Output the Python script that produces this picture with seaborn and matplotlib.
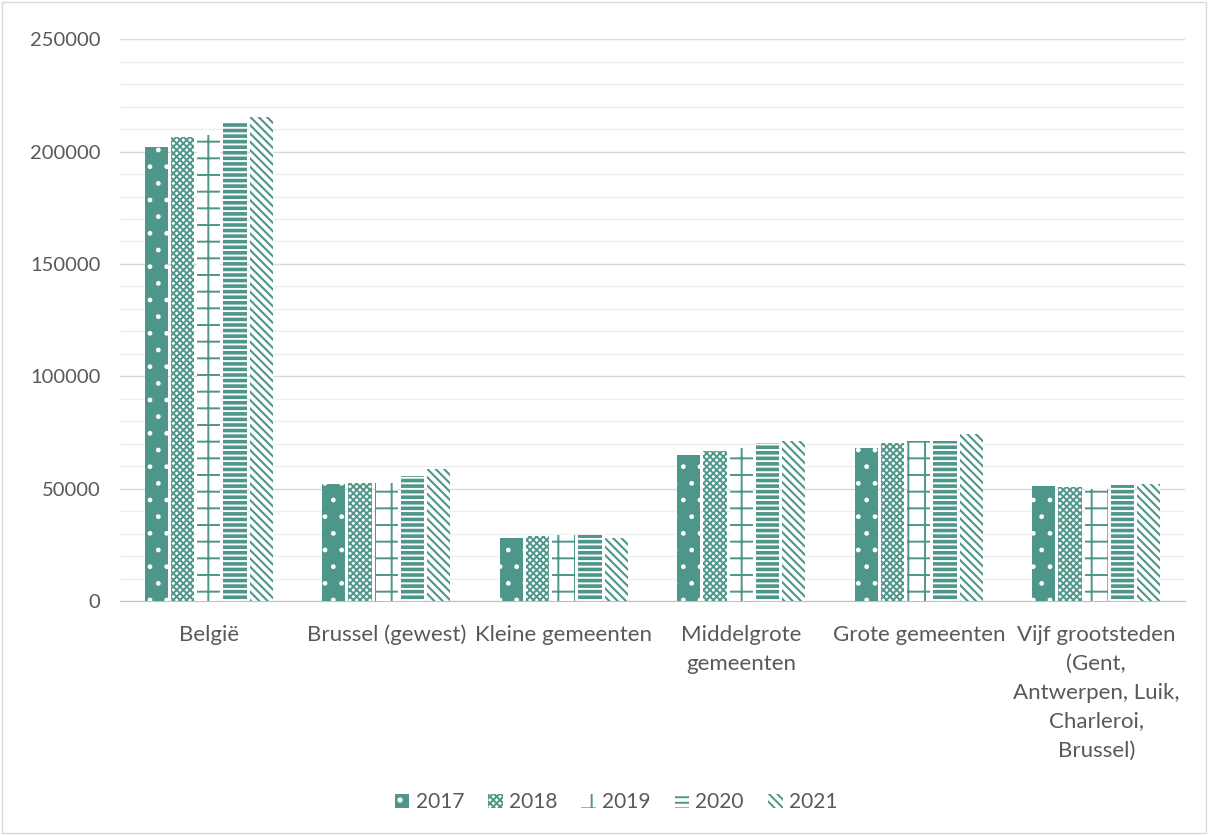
import pandas as pd
import seaborn as sns
import matplotlib.pyplot as plt
from matplotlib.ticker import MultipleLocator
from matplotlib.patches import Patch, Rectangle

# data
categories = ["België", "Brussel (gewest)", "Kleine gemeenten", "Middelgrote\ngemeenten",
              "Grote gemeenten", "Vijf grootsteden\n(Gent,\nAntwerpen, Luik,\nCharleroi,\nBrussel)"]
years = ["2017", "2018", "2019", "2020", "2021"]
v2017 = [202000, 52000, 28000, 65000, 68000, 51000]
v2018 = [206500, 52500, 29000, 66700, 70300, 50700]
v2019 = [207500, 52500, 29300, 68000, 71200, 49800]
v2020 = [213000, 55600, 29300, 70300, 71200, 51600]
v2021 = [215300, 58700, 28000, 71200, 74300, 52000]

teal = "#4E9689"
grey_txt = "#595959"

rows = []
for y, vals in zip(years, [v2017, v2018, v2019, v2020, v2021]):
    for c, v in zip(categories, vals):
        rows.append({"cat": c, "year": y, "value": v})
df = pd.DataFrame(rows)

sns.set_style("white")
plt.rcParams["font.family"] = ["Lato", "DejaVu Sans"]
plt.rcParams["hatch.linewidth"] = 1.4

fig = plt.figure(figsize=(12.08, 8.35), dpi=100)
ax = fig.add_axes([0.0993, 0.2802, 0.8817, 0.6728])

sns.barplot(data=df, x="cat", y="value", hue="year", order=categories, hue_order=years,
            palette=["white"] * 5, width=0.74, gap=0.12, ax=ax, legend=False, zorder=3)

# patronen per jaar
styles = [
    dict(face=teal, edge="white", hatch=".", hlw=1.0),
    dict(face="white", edge=teal, hatch="xxxxx", hlw=1.4),
    dict(face="white", edge=teal, hatch="+", hlw=1.4),
    dict(face="white", edge=teal, hatch="---", hlw=2.6),
    dict(face="white", edge=teal, hatch="\\\\\\\\", hlw=1.5),
]
for cont, st in zip(ax.containers, styles):
    for bar in cont:
        bar.set_facecolor(st["face"])
        bar.set_edgecolor(st["edge"])
        bar.set_hatch(st["hatch"])
        bar.set_linewidth(0)
        if hasattr(bar, "set_hatch_linewidth"):
            bar.set_hatch_linewidth(st["hlw"])

ax.set_ylim(0, 250000)
ax.yaxis.set_major_locator(MultipleLocator(50000))
ax.yaxis.set_minor_locator(MultipleLocator(10000))
ax.grid(axis="y", which="major", color="#D9D9D9", lw=1, zorder=0)
ax.grid(axis="y", which="minor", color="#EFEFEF", lw=1, zorder=0)
ax.set_axisbelow(True)
for s in ["top", "right", "left"]:
    ax.spines[s].set_visible(False)
ax.spines["bottom"].set_color("#BFBFBF")
ax.set_xlabel("")
ax.set_ylabel("")
ax.tick_params(axis="both", which="both", length=0, colors=grey_txt)
ax.tick_params(axis="x", pad=17, labelsize=16)
ax.tick_params(axis="y", pad=14, labelsize=14.5)
ax.set_xticks(range(len(categories)))
ax.set_xticklabels(categories, va="top", ha="center", linespacing=1.56)

handles = []
for st in styles:
    h = Patch(facecolor=st["face"], edgecolor=st["edge"], hatch=st["hatch"], lw=0)
    handles.append(h)
fig.legend(handles, years, loc="center", bbox_to_anchor=(0.51, 0.039), ncol=5, frameon=False,
           fontsize=15, labelcolor=grey_txt, handlelength=0.7, handleheight=0.7,
           handletextpad=0.3, columnspacing=1.15)

fig.patches.append(Rectangle((0.002, 0.002), 0.996, 0.996, transform=fig.transFigure,
                             fill=False, edgecolor="#D9D9D9", lw=1))

fig.savefig("out.png", dpi=100)
